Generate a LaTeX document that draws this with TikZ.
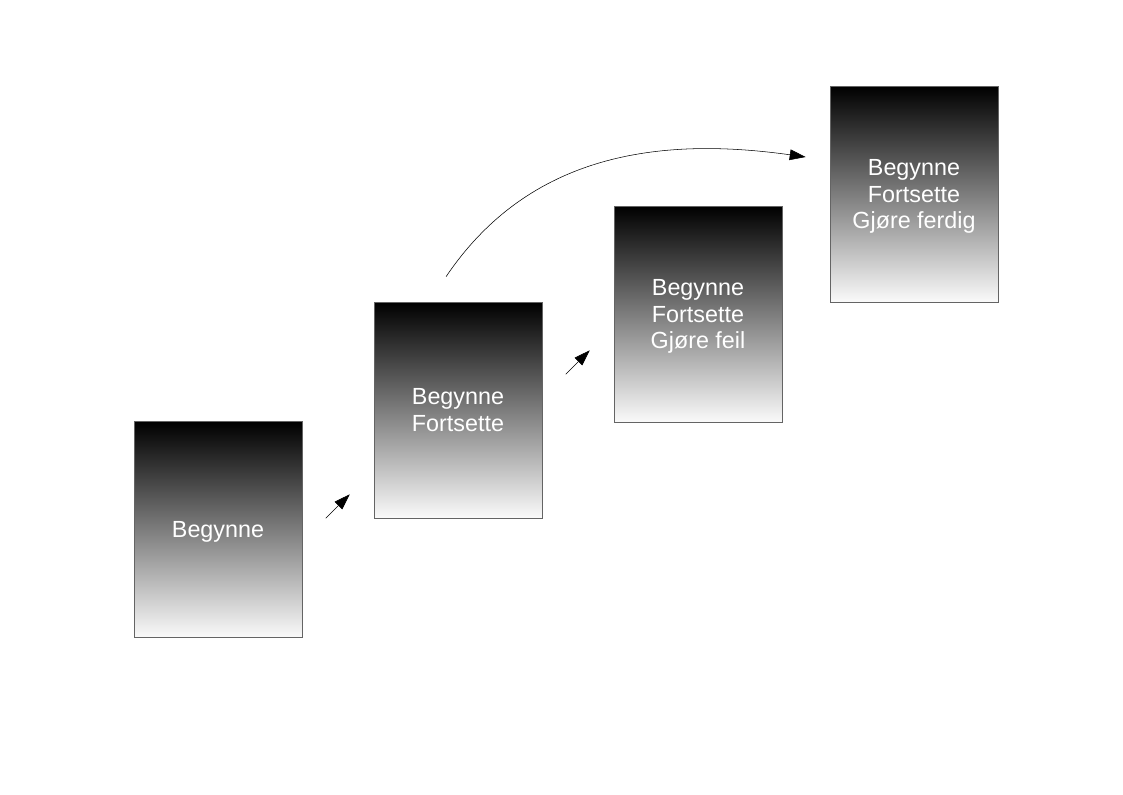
\documentclass[tikz,border=0pt]{standalone}
\usepackage{fontspec}
\setmainfont{Liberation Sans}
\usepackage{tikz}
\usetikzlibrary{arrows.meta}
\usetikzlibrary{calc}
\usepackage{xcolor}
\definecolor{ColEdge}{RGB}{100,100,100}
\definecolor{ColLow}{RGB}{250,250,250}
\tikzstyle{StepBox}=[rectangle,draw=ColEdge,top color=black,bottom color=ColLow,
minimum width=126pt,minimum height=162pt,inner sep=0pt,text=white,align=center,
text depth=0pt,font=\fontsize{17.5}{20}\selectfont]
\tikzstyle{StepArrow}=[black,-{Triangle[length=12pt,width=8pt]}]

\begin{document}
\begin{tikzpicture}[x=0.75pt,y=-0.75pt]
        \useasboundingbox (0,0) rectangle (1123,794);
        \node[StepBox](s1)at(218,529.5){Begynne};
        \node[StepBox](s2)at(458,410){Begynne\\Fortsette};
        \node[StepBox](s3)at(698,314){Begynne\\Fortsette\\Gjøre feil};
        \node[StepBox](s4)at(914,194){Begynne\\Fortsette\\Gjøre ferdig};
        \coordinate(a1)at($(s2.south west)+(-48,0)$);
        \coordinate(b1)at($(s2.south west)+(-24,-24)$);
        \coordinate(a2)at($(s3.south west)+(-48,-48)$);
        \coordinate(b2)at($(s3.south west)+(-24,-72)$);
        \coordinate(a3)at($(s2.north)+(-12,-25)$);
        \coordinate(b3)at($(s4.west)+(-24,-37)$);
        \draw[StepArrow](a1)--(b1);
        \draw[StepArrow](a2)--(b2);
        \draw[StepArrow](a3)to[out=56,in=172](b3);
    \end{tikzpicture}
\end{document}
